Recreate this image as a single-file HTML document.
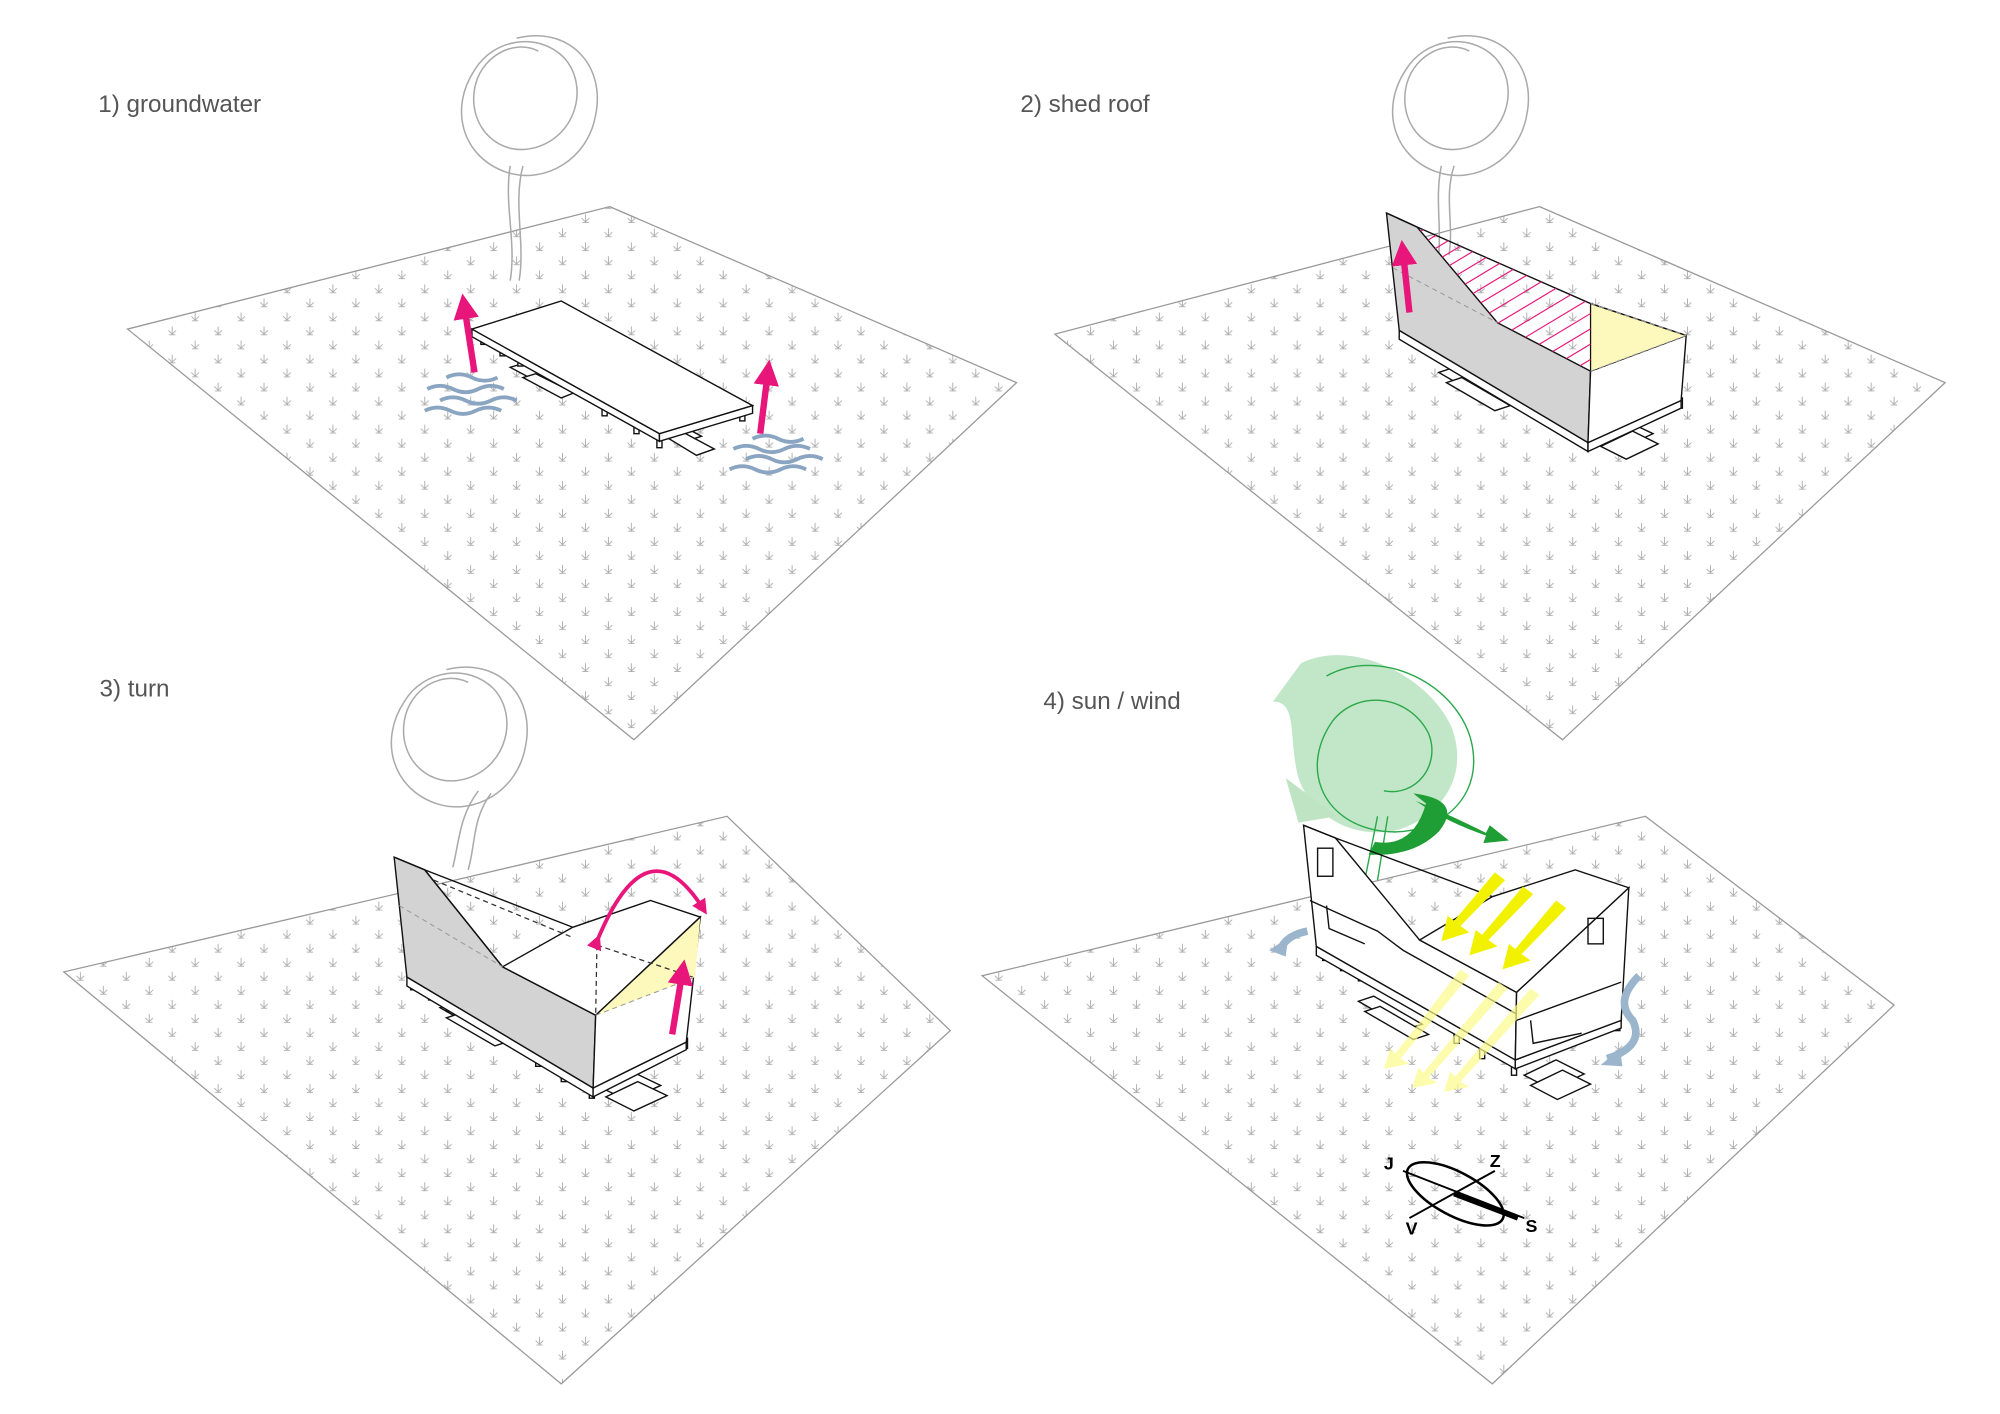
<!DOCTYPE html>
<html><head><meta charset="utf-8"><style>
html,body{margin:0;padding:0;background:#fff;}
svg{display:block;}
text{font-family:"Liberation Sans",sans-serif;}
</style></head><body>
<svg width="2000" height="1414" viewBox="0 0 1568 1108.6" xmlns="http://www.w3.org/2000/svg">
<defs>
<pattern id="g" x="0" y="0" width="36" height="22" patternUnits="userSpaceOnUse">
 <g stroke="#aaa" stroke-width="0.7" fill="none">
  <path d="M9 3v6M6 6l3 3l3-3M6.5 9.5h5"/>
  <path d="M27 14v6M24 17l3 3l3-3M24.5 20.5h5"/>
 </g>
</pattern>
<marker id="pa" viewBox="0 0 10 10" refX="5" refY="5" markerWidth="4" markerHeight="4" orient="auto"><path d="M0 0L10 5L0 10z" fill="#e8157a"/></marker>
</defs>

<polygon points="478,162 797,300 497,580 100,258" fill="url(#g)" stroke="#999" stroke-width="1"/>
<polygon points="1207,162 1525,300 1225,580 827,262" fill="url(#g)" stroke="#999" stroke-width="1"/>
<polygon points="570,640 745,808 440,1085 50,762" fill="url(#g)" stroke="#999" stroke-width="1"/>
<polygon points="1290,640 1485,788 1170,1085 770,765" fill="url(#g)" stroke="#999" stroke-width="1"/>

<text x="77" y="88" font-size="19" fill="#555">1) groundwater</text>
<text x="800" y="88" font-size="19" fill="#555">2) shed roof</text>
<text x="78" y="546" font-size="19" fill="#555">3) turn</text>
<text x="818" y="556" font-size="19" fill="#555">4) sun / wind</text>

<g fill="none" stroke="#aaa" stroke-width="1.2">
 <path d="M405 30c40-10 70 20 62 60c-6 35-40 55-70 45c-35-12-45-50-25-80c15-25 50-30 70-10c20 22 10 60-20 70c-30 10-55-15-50-45c4-25 30-40 50-30M400 130c-5 30 5 60 0 90M410 130c-8 30 2 60-3 90"/>
 <path d="M1135 30c40-10 70 20 62 60c-6 35-40 55-70 45c-35-12-45-50-25-80c15-25 50-30 70-10c20 22 10 60-20 70c-30 10-55-15-50-45c4-25 30-40 50-30M1130 130c-5 25 0 45-2 70M1140 130c-8 25 0 45-4 70"/>
 <path d="M350 525c40-10 70 20 62 60c-6 35-40 55-70 45c-35-12-45-50-25-80c15-25 50-30 70-10c20 22 10 60-20 70c-30 10-55-15-50-45c4-25 30-40 50-30M375 620c-15 20-15 40-20 60M385 622c-15 20-12 40-18 60"/>
</g>

<!-- Panel 1 -->
<g stroke="#111" stroke-width="1.1" fill="#fff">
 <polygon points="507,330 520,326 550,342 535,347"/>
 <polygon points="518,340 530,336 560,352 546,357"/>
 <polygon points="400,288 410,285 440,300 430,304"/>
 <polygon points="410,296 420,293 450,308 440,312"/>
 <rect x="377" y="262" width="4" height="8"/><rect x="392" y="271" width="4" height="8"/><rect x="406" y="279" width="4" height="8"/><rect x="472" y="318" width="4" height="8"/><rect x="497" y="332" width="4" height="8"/><rect x="515" y="342" width="4" height="9"/><rect x="580" y="322" width="4" height="8"/>
 <polygon points="370,258 517,340 517,346 370,264"/>
 <polygon points="517,340 590,318 590,324 517,346"/>
 <polygon points="370,258 440,236 590,318 517,340"/>
</g>
<g stroke="#e8157a" stroke-width="5" marker-end="url(#pa)"><line x1="372" y1="292" x2="364" y2="240"/><line x1="596" y1="340" x2="602" y2="292"/></g>
<g stroke="#8aa5c2" stroke-width="3" fill="none">
 <path d="M335 305q10-5 20 0t20 0t20 0M345 314q10-5 20 0t20 0t20 0M333 322q10-5 20 0t20 0t20 0M350 296q10-5 20 0t20 0"/>
 <path d="M575 352q10-5 20 0t20 0t20 0M585 360q10-5 20 0t20 0t20 0M572 368q10-5 20 0t20 0t20 0M590 344q10-5 20 0t20 0"/>
</g>

<!-- Panel 2 -->
<g stroke="#111" stroke-width="1.1" fill="#fff">
 <polygon points="1128,292 1140,288 1178,310 1166,314"/>
 <polygon points="1134,300 1146,296 1184,318 1172,322"/>
 <polygon points="1250,342 1275,330 1296,340 1270,352"/>
 <polygon points="1255,350 1280,338 1300,348 1275,360"/>
 <rect x="1104" y="262" width="4" height="8"/><rect x="1118" y="270" width="4" height="8"/><rect x="1133" y="278" width="4" height="8"/><rect x="1208" y="321" width="4" height="8"/><rect x="1227" y="333" width="4" height="8"/><rect x="1243" y="343" width="4" height="9"/><rect x="1315" y="312" width="4" height="8"/>
 <polygon points="1097,259 1245,347 1245,354 1097,266"/>
 <polygon points="1245,347 1318,314 1318,320 1245,354"/>
 <polygon points="1087,167 1111,178 1174,253 1247,291 1245,347 1097,259" fill="#d3d3d3"/>
 <polygon points="1247,291 1322,263 1318,314 1245,347"/>
 <polygon points="1247,238 1322,263 1247,291" fill="#fdf8bc" stroke="none"/>
 <polyline points="1087,167 1111,178 1247,238 1322,263" fill="none"/>
</g>
<line x1="1247" y1="238" x2="1247" y2="291" stroke="#111" stroke-width="1"/>
<g stroke="#999" stroke-dasharray="4,3" fill="none" stroke-width="0.8"><line x1="1247" y1="291" x2="1322" y2="263"/><line x1="1247" y1="238" x2="1322" y2="263"/><line x1="1092" y1="210" x2="1174" y2="253"/></g>
<clipPath id="hc"><polygon points="1111,178 1247,238 1247,291 1174,253"/></clipPath>
<g clip-path="url(#hc)" stroke="#e8157a" stroke-width="0.9">
 <path d="M1100 190l40-25M1100 200l50-30M1100 210l60-36M1100 220l70-42M1100 230l80-48M1110 235l80-48M1120 240l80-48M1130 245l80-48M1140 250l80-48M1150 256l80-48M1160 262l80-48M1170 268l80-48M1180 274l80-48M1190 280l80-48M1200 286l80-48M1210 292l80-48M1220 298l80-48M1230 304l80-48M1240 310l80-48"/>
</g>
<line x1="1105" y1="245" x2="1100" y2="198" stroke="#e8157a" stroke-width="5" marker-end="url(#pa)"/>

<!-- Panel 3 -->
<g stroke="#111" stroke-width="1.1" fill="#fff">
 <polygon points="345,790 357,786 395,808 383,812"/>
 <polygon points="350,798 362,794 400,816 388,820"/>
 <polygon points="470,852 495,840 518,851 492,863"/>
 <polygon points="475,860 500,848 523,859 497,871"/>
 <rect x="322" y="768" width="4" height="8"/><rect x="336" y="776" width="4" height="8"/><rect x="350" y="785" width="4" height="8"/><rect x="420" y="828" width="4" height="8"/><rect x="440" y="840" width="4" height="8"/><rect x="462" y="852" width="4" height="9"/><rect x="535" y="814" width="4" height="8"/>
 <polygon points="319,766 465,853 465,860 319,773"/>
 <polygon points="465,853 538,817 538,823 465,860"/>
 <polygon points="309,672 333,682 394,758 467,796 465,853 319,766" fill="#d3d3d3"/>
 <polygon points="467,796 549,719 538,817 465,853"/>
 <polygon points="394,758 449,727 510,706 549,719 467,796"/>
 <polygon points="467,796 549,719 545,766" fill="#fdf8bc" stroke="none"/>
 <polyline points="309,672 333,682 394,758" fill="none"/>
 <line x1="467" y1="796" x2="549" y2="719"/>
 <polyline points="333,682 449,727" fill="none"/>
</g>
<g stroke="#333" stroke-dasharray="4,3" fill="none" stroke-width="1"><line x1="468" y1="741" x2="467" y2="796"/><line x1="468" y1="741" x2="543" y2="766"/><line x1="340" y1="690" x2="449" y2="735"/></g>
<g stroke="#999" stroke-dasharray="4,3" fill="none" stroke-width="0.8"><line x1="467" y1="796" x2="545" y2="766"/><line x1="313" y1="710" x2="394" y2="758"/></g>
<path d="M468 738q39-95 83-26" fill="none" stroke="#e8157a" stroke-width="3" marker-start="url(#pa)" marker-end="url(#pa)"/>
<line x1="527" y1="811" x2="535" y2="762" stroke="#e8157a" stroke-width="5" marker-end="url(#pa)"/>

<!-- Panel 4 tree -->
<path d="M1020 520c40-20 100 10 118 50c15 40-10 70-40 80c-35 10-70-10-80-40c-8-30 0-60-20-60z" fill="#a8dbb0" opacity="0.7"/>
<path d="M1008 610l40 30l-30 5z" fill="#bfe4c4"/>
<g fill="none" stroke="#2aa84a" stroke-width="1.1">
 <path d="M1040 530c45-25 110 10 115 60c5 45-40 70-80 60c-40-10-55-50-30-85c20-25 60-20 75 10c10 25-10 50-35 45M1080 640l-10 50M1088 640l-8 50"/>
</g>
<path d="M1078 660q30 5 40-30l-10-8q40 5 20 30q-20 20-55 18z" fill="#1f9e35"/>
<path d="M1110 628q25 10 55 25l3-6l15 12l-20 2l2-6q-30-10-55-27z" fill="#1f9e35"/>

<!-- Panel 4 building -->
<g stroke="#111" stroke-width="1.1" fill="#fff">
 <polygon points="1065,785 1077,781 1115,803 1103,807"/>
 <polygon points="1070,793 1082,789 1120,811 1108,815"/>
 <polygon points="1195,843 1220,831 1242,842 1216,854"/>
 <polygon points="1200,851 1225,839 1247,850 1221,862"/>
 <rect x="1037" y="745" width="4" height="8"/><rect x="1051" y="753" width="4" height="8"/><rect x="1065" y="761" width="4" height="8"/><rect x="1140" y="810" width="4" height="8"/><rect x="1160" y="822" width="4" height="8"/><rect x="1185" y="834" width="4" height="9"/><rect x="1266" y="800" width="4" height="8"/>
 <polygon points="1032,742 1188,831 1188,838 1032,749"/>
 <polygon points="1188,831 1271,800 1271,806 1188,838"/>
 <polygon points="1022,647 1047,657 1113,737 1189,778 1188,831 1032,742"/>
 <polygon points="1189,778 1277,696 1271,800 1188,831"/>
 <polygon points="1113,737 1170,703 1235,682 1277,696 1189,778"/>
 <polyline points="1022,647 1047,657 1170,703" fill="none"/>
 <polyline points="1027,706 1080,730 1100,745 1189,795" fill="none"/>
 <polyline points="1189,800 1271,770" fill="none"/>
 <rect x="1033" y="665" width="12" height="22" fill="none"/>
 <rect x="1245" y="720" width="12" height="20" fill="none"/>
 <path d="M1040,710 1042,728 1070,740" fill="none"/>
 <path d="M1200,800 1202,818 1240,810" fill="none"/>
</g>
<g fill="#fbfb8a" opacity="0.7">
 <polygon points="1145,760 1152,765 1098,830 1105,834 1085,838 1090,822 1094,826"/>
 <polygon points="1175,770 1182,775 1120,845 1127,849 1107,853 1112,837 1116,841"/>
 <polygon points="1200,775 1207,780 1145,848 1152,852 1132,856 1137,840 1141,844"/>
</g>
<g fill="#f2f200">
 <polygon points="1172,684 1180,690 1145,726 1152,731 1130,738 1135,718 1140,722"/>
 <polygon points="1194,695 1202,701 1167,737 1174,742 1152,749 1157,729 1162,733"/>
 <polygon points="1220,706 1228,712 1193,748 1200,753 1178,760 1183,740 1188,744"/>
</g>
<g fill="none" stroke="#9bb5cc" stroke-width="6">
 <path d="M1025 730q-15 3-20 12"/>
 <path d="M1285 765q-20 20-5 35q10 20-20 30"/>
</g>
<polygon points="995,745 1010,735 1008,750" fill="#9bb5cc"/>
<polygon points="1255,835 1270,822 1272,836" fill="#9bb5cc"/>

<g transform="rotate(28 1141 936)"><ellipse cx="1141" cy="936" rx="42" ry="17" fill="none" stroke="#000" stroke-width="2"/></g>
<line x1="1105" y1="955" x2="1172" y2="918" stroke="#000" stroke-width="1.5"/>
<line x1="1100" y1="918" x2="1195" y2="955" stroke="#000" stroke-width="1.5"/>
<line x1="1140" y1="936" x2="1190" y2="955" stroke="#000" stroke-width="4"/>
<g font-size="14" font-weight="bold" fill="#000">
 <text x="1085" y="917">J</text><text x="1168" y="915">Z</text><text x="1102" y="968">V</text><text x="1196" y="966">S</text>
</g>
</svg>
</body></html>
